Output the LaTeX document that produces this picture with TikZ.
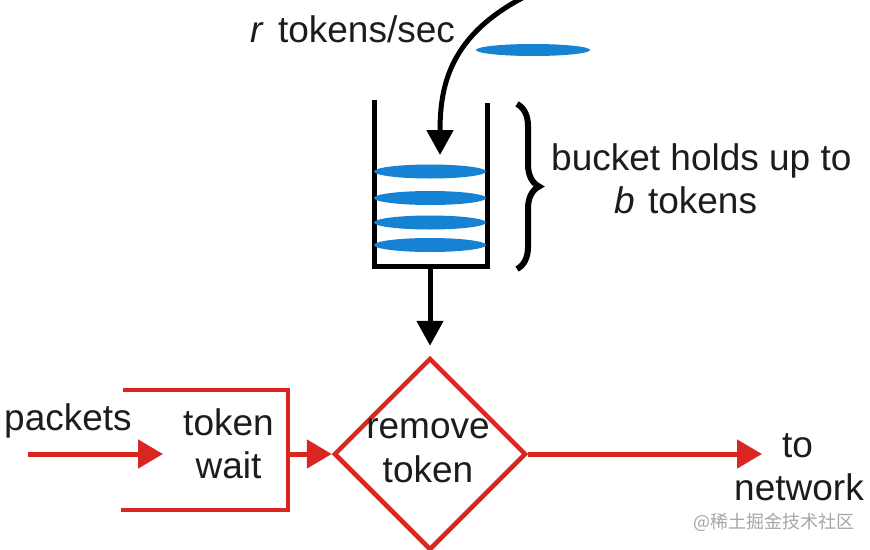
\documentclass[tikz,border=0pt]{standalone}
\usepackage{fontspec}
\setmainfont{Liberation Sans}
\newfontfamily\cjk{Noto Sans CJK SC}
\usetikzlibrary{arrows.meta,shapes.geometric,decorations.pathreplacing}
\definecolor{tbred}{RGB}{218,38,32}
\definecolor{tbblue}{RGB}{22,130,212}
\definecolor{tbtext}{RGB}{28,28,28}
\begin{document}
\begin{tikzpicture}[x=1pt,y=-1pt,
  lbl/.style={font=\fontsize{37}{43}\selectfont, text=tbtext, inner sep=0pt, anchor=base west},
  clbl/.style={font=\fontsize{37}{43}\selectfont, text=tbtext, inner sep=0pt, anchor=base},
  blkline/.style={line width=5pt, draw=black, line join=miter},
  blkarrow/.style={line width=5pt, draw=black, -{Triangle[length=25pt,width=26pt]}},
  redline/.style={line width=4.5pt, draw=tbred, line join=miter},
  redarrow/.style={line width=5pt, draw=tbred, -{Triangle[length=25pt,width=28pt]}},
  tokenell/.style={fill=tbblue, draw=none},
  bracestyle/.style={line width=6pt, draw=black, decorate, decoration={brace, amplitude=22pt}}
]
\useasboundingbox[fill=white] (0,0) rectangle (870,549);

% incoming token arrow and falling token
\coordinate (tokensrc) at (526,-4);
\coordinate (bucketin) at (440,155);
\fill[tokenell] (533,50) ellipse [x radius=57, y radius=6];
\draw[blkarrow] (tokensrc) .. controls (450,35) and (440,85) .. (bucketin);
\node[lbl] (rate) at (250,42) {\textit{r}\hspace{4pt} tokens/sec};

% bucket
\draw[blkline] (374,100) -- (374,266) -- (487,266) -- (487,103);
\foreach \yy in {171.5,198,222.5,245}
  \fill[tokenell] (430,\yy) ellipse [x radius=56, y radius=7];
\coordinate (bucketbot) at (430,266);

% brace and label
\coordinate (bracetop) at (517,104);
\coordinate (bracebot) at (517,269);
\draw[bracestyle] (bracetop) -- (bracebot);
\node[lbl] (holds) at (551,170) {bucket holds up to};
\node[lbl] (btok) at (614,213) {\textit{b}\hspace{3pt} tokens};

% remove token diamond
\node[diamond, draw=tbred, line width=4.5pt, minimum width=192pt, minimum height=192pt, inner sep=0pt] (rm) at (430,454) {};
\node[clbl] (rm1) at (428,438) {remove};
\node[clbl] (rm2) at (428,482) {token};
\draw[blkarrow, shorten >=10pt] (bucketbot) -- (rm.north);

% token wait
\draw[redline] (123,390) -| (288,510) -- (121,510);
\coordinate (twout) at (288,454);
\node[clbl] (tw1) at (228.5,435) {token};
\node[clbl] (tw2) at (228.5,478) {wait};
\draw[redarrow] (twout) -- (rm.west);

% packets
\node[lbl] (packets) at (4,430) {packets};
\coordinate (pin) at (28,454);
\coordinate (pend) at (163,454);
\draw[redarrow] (pin) -- (pend);

% to network
\coordinate (netend) at (762,455);
\draw[redarrow] (rm.east) -- (rm.east -| netend);
\node[clbl] (to) at (797.5,457) {to};
\node[clbl] (network) at (799,500) {network};

% watermark
\node[anchor=base west, inner sep=0pt, font=\cjk\fontsize{18}{20}\selectfont, text=black!35] (wm) at (693,528) {@稀土掘金技术社区};
\end{tikzpicture}
\end{document}
